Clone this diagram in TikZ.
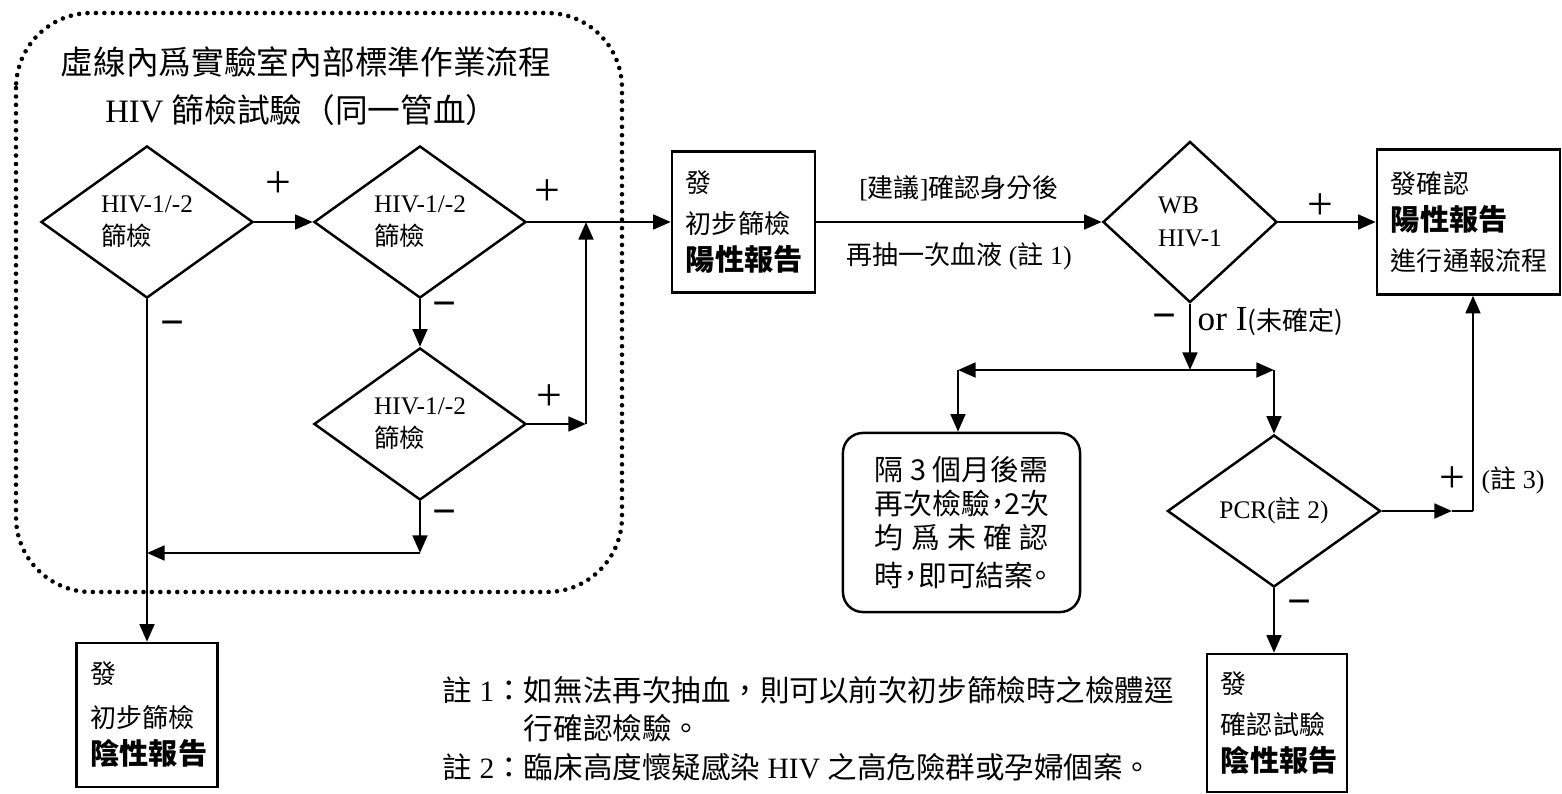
\documentclass[tikz,border=0pt]{standalone}
\usepackage{fontspec}
\setmainfont{Liberation Serif}
\newfontfamily\cjk{Noto Sans CJK TC}
\usepackage{tikz}
\usetikzlibrary{shapes.geometric}
\usetikzlibrary{arrows.meta}
% half-width punctuation for the justified box
\newcommand{\half}[1]{\makebox[0.5em][c]{#1}}

\begin{document}
\begin{tikzpicture}[x=0.01cm, y=-0.01cm,
    arr/.style={-{Triangle[length=5pt,width=4.2pt]}, line width=0.7pt},
    testbox/.style={diamond, draw, line width=0.7pt, aspect=1.4, inner sep=0pt,
        minimum width=2.12cm, minimum height=1.52cm, align=left,
        font=\fontsize{7.2}{9.4}\selectfont},
    report/.style={rectangle, draw, line width=0.7pt, align=left, inner xsep=0.14cm,
        font=\cjk\fontsize{7.4}{10.5}\selectfont},
    sign/.style={font=\fontsize{13}{13}\selectfont, inner sep=0pt},
    minus/.style={font=\bfseries\fontsize{12}{12}\selectfont, inner sep=0pt}]
    \useasboundingbox (0,0) rectangle (1562,794);

    % Lab internal procedure (dotted frame)
    \draw[line width=1.3pt, dash pattern=on 0pt off 2.4pt, line cap=round,
        rounded corners=0.75cm] (16,13) rectangle (622,592);
    \node[font=\cjk\fontsize{9.3}{11}\selectfont] (title) at (306,62) {虛線內爲實驗室內部標準作業流程};
    \node[font=\fontsize{9.3}{11}\selectfont] (subtitle) at (302,110) {HIV {\cjk 篩檢試驗（同一管血）}};

    % Screening tests
    \node[testbox] (s1) at (147,222) {HIV-1/-2\\{\cjk 篩檢}};
    \node[testbox] (s2) at (420,222) {HIV-1/-2\\{\cjk 篩檢}};
    \node[testbox] (s3) at (420,424) {HIV-1/-2\\{\cjk 篩檢}};

    % Reports
    \node[report, text width=1.15cm, minimum height=1.41cm] (rep1) at (743.5,222)
        {發\\[1pt]初步篩檢\\{\cjk\bfseries\fontsize{8.3}{10.5}\selectfont 陽性報告}};
    \node[report, text width=1.13cm, minimum height=1.44cm] (neg1) at (147,715)
        {發\\[2pt]初步篩檢\\{\cjk\bfseries\fontsize{8.3}{10.5}\selectfont 陰性報告}};
    \node[report, text width=1.55cm, minimum height=1.45cm] (conf) at (1468.5,222)
        {發確認\\{\cjk\bfseries\fontsize{8.3}{10.5}\selectfont 陽性報告}\\[1pt]進行通報流程};
    \node[report, text width=1.12cm, minimum height=1.38cm] (neg2) at (1277,723)
        {發\\[1pt]確認試驗\\{\cjk\bfseries\fontsize{8.3}{10.5}\selectfont 陰性報告}};
    \node[draw, line width=0.7pt, rounded corners=0.2cm, minimum width=2.37cm,
        minimum height=1.79cm, align=center, font=\cjk\fontsize{8.2}{9.8}\selectfont] (retest) at (961.5,522.5)
        {\makebox[6em][s]{隔\hfill 3\hfill 個月後需}\\
         \makebox[6em][s]{再次檢驗\half{，}2\hfill 次}\\
         \makebox[6em][s]{均\hfill 爲\hfill 未\hfill 確\hfill 認}\\[1pt]
         \makebox[6em][s]{時\half{，}即可結案\half{。}}};

    % Confirmation tests
    \node[testbox, minimum width=1.74cm, minimum height=1.61cm] (wb) at (1190,222) {WB\\HIV-1};
    \node[testbox, minimum width=2.13cm, align=center] (pcr) at (1274,511) {PCR({\cjk 註} 2)};

    % Junctions
    \coordinate (j1) at (586,424);
    \coordinate (j2) at (586,222);
    \coordinate (j3) at (420,553);
    \coordinate (j4) at (147,553);
    \coordinate (j5) at (1190,370);
    \coordinate (j6) at (1274,370);
    \coordinate (j7) at (958,370);
    \coordinate (p1) at (1452,511);
    \coordinate (p2) at (1473,511);

    % Connectors
    \draw[arr] (s1.east) -- (s2.west);
    \draw[arr] (s2.east) -- (rep1.west);
    \draw[arr] (s2.south) -- (s3.north);
    \draw[arr] (s3.east) -- (j1);
    \draw[arr] (j1) -- (j2);
    \draw[arr] (s3.south) -- (j3);
    \draw[arr] (j3) -- (j4);
    \draw[arr] (s1.south) -- (neg1.north);
    \draw[arr] (rep1.east) -- (wb.west)
        node[midway, above=0.08cm, font=\fontsize{7.4}{9}\selectfont] {[{\cjk 建議}]{\cjk 確認身分後}}
        node[midway, below=0.08cm, font=\fontsize{7.4}{9}\selectfont] {{\cjk 再抽一次血液} ({\cjk 註} 1)};
    \draw[arr] (wb.east) -- (conf.west);
    \draw[arr] (wb.south) -- (j5);
    \draw[arr] (j5) -- (j7);
    \draw[arr] (j5) -- (j6);
    \draw[arr] (j7) -- (j7 |- retest.north);
    \draw[arr] (j6) -- (pcr.north);
    \draw[arr] (pcr.east) -- (p1);
    \draw[line width=0.7pt] (p1) -- (p2);
    \draw[arr] (p2) -- (p2 |- conf.south);
    \draw[arr] (pcr.south) -- (pcr.south |- neg2.north);

    % Signs
    \node[sign] at (278,185) {+};
    \node[sign] at (547,193) {+};
    \node[sign] at (549,398) {+};
    \node[sign] at (1320,207) {+};
    \node[sign] at (1452,480) {+};
    \node[minus] at (445,310) {−};
    \node[minus] at (445,518) {−};
    \node[minus] at (173,329) {−};
    \node[minus] at (1165,322) {−};
    \node[minus] at (1300,608) {−};
    \node[anchor=west, inner sep=0pt] (unsure) at (1197,322)
        {\fontsize{10}{10}\selectfont or I{\cjk\fontsize{7.4}{9}\selectfont (未確定)}};
    \node[anchor=west, inner sep=0pt, font=\fontsize{7.4}{9}\selectfont] (note3) at (1481,480) {({\cjk 註} 3)};

    % Notes
    \node[anchor=west, inner sep=0pt, font=\fontsize{8.4}{11}\selectfont] (notes) at (442,732)
        {\begin{tabular}{@{}l@{}l@{}}
         {\cjk 註} 1{\cjk ：} & {\cjk 如無法再次抽血，則可以前次初步篩檢時之檢體逕}\\
         & {\cjk 行確認檢驗。}\\
         {\cjk 註} 2{\cjk ：} & {\cjk 臨床高度懷疑感染} HIV {\cjk 之高危險群或孕婦個案。}
         \end{tabular}};
\end{tikzpicture}
\end{document}
